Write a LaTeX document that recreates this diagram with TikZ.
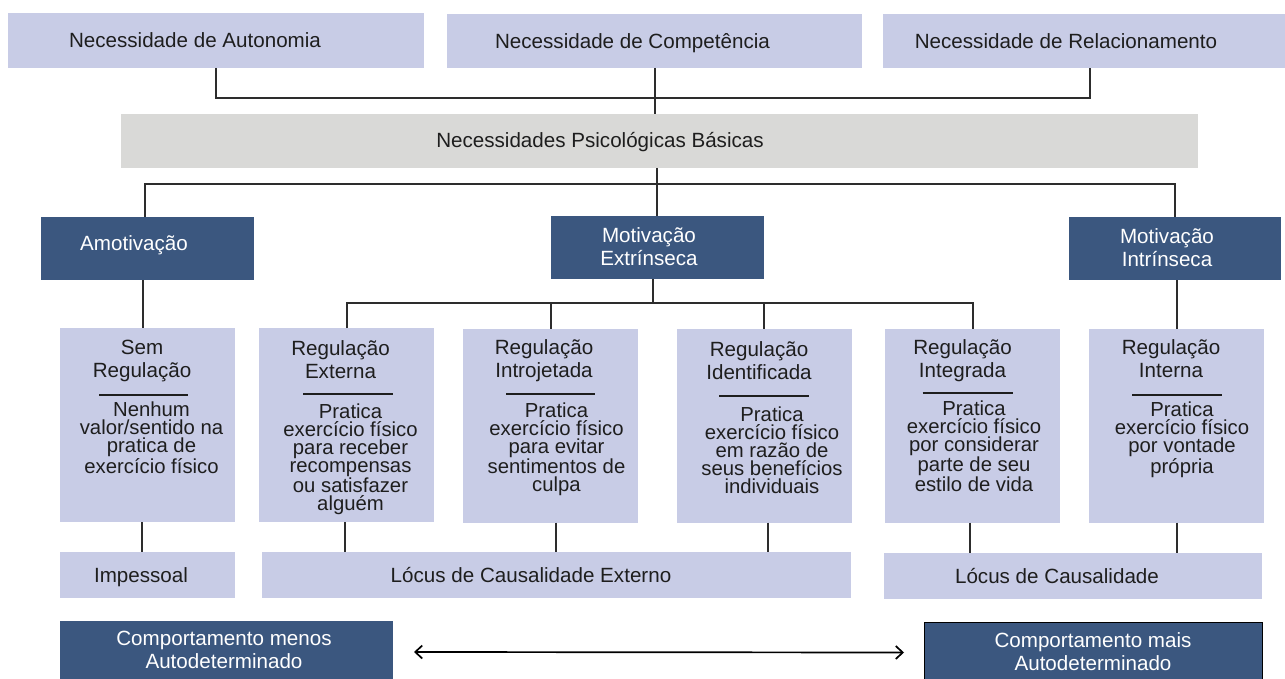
\documentclass[tikz,border=0pt]{standalone}
\usepackage{fontspec}
\setmainfont{Liberation Sans}
\usetikzlibrary{arrows.meta}
\definecolor{lav}{RGB}{200,204,230}
\definecolor{lgray}{RGB}{217,217,215}
\definecolor{navy}{RGB}{59,87,127}
\definecolor{ink}{RGB}{30,30,30}
\definecolor{wirec}{RGB}{45,45,45}
\begin{document}
\begin{tikzpicture}[x=1pt,y=-1pt,
  every node/.style={inner sep=0pt, outer sep=0pt},
  lbox/.style={fill=lav},
  gbox/.style={fill=lgray},
  dbox/.style={fill=navy},
  ttl/.style={font=\fontsize{20.6}{23}\selectfont, align=center, text=ink, anchor=base},
  bdy/.style={font=\fontsize{20.3}{18}\selectfont, align=center, text=ink, anchor=base},
  wtxt/.style={font=\fontsize{20.6}{23}\selectfont, align=center, text=white, anchor=base},
  wire/.style={draw=wirec, line width=1.2pt},
  rulel/.style={draw=ink, line width=1.5pt},
  dart/.style={draw=black, line width=1.7pt, {Straight Barb[length=7pt,width=13pt]}-{Straight Barb[length=7pt,width=13pt]}}
]
\useasboundingbox (0,0) rectangle (1285,679);

% top needs
\node[lbox, minimum width=416pt, minimum height=55pt] (aut) at (216,40.5) {};
\node[lbox, minimum width=415pt, minimum height=54pt] (comp) at (654.5,41) {};
\node[lbox, minimum width=402pt, minimum height=54pt] (rel) at (1084,41) {};
\node[gbox, minimum width=1077pt, minimum height=54pt] (nec) at (659.5,141) {};
\node[ttl] (tAut) at (195,48) {Necessidade de Autonomia};
\node[ttl] (tComp) at (632.5,49) {Necessidade de Competência};
\node[ttl] (tRel) at (1066,49) {Necessidade de Relacionamento};
\node[ttl] (tNec) at (600,148) {Necessidades Psicológicas Básicas};

% motivation types
\node[dbox, minimum width=213pt, minimum height=63pt] (amo) at (147.5,248.5) {};
\node[dbox, minimum width=213pt, minimum height=63pt] (ext) at (657.5,247.5) {};
\node[dbox, minimum width=212pt, minimum height=63pt] (int) at (1175,248.5) {};
\node[wtxt] (tAmo) at (134,250.5) {Amotivação};
\node[wtxt] (tExt) at (649,265.7) {Motivação\\Extrínseca};
\node[wtxt] (tInt) at (1167,266.5) {Motivação\\Intrínseca};

% regulation boxes
\node[lbox, minimum width=175pt, minimum height=194pt] (sem) at (147.5,425) {};
\node[lbox, minimum width=175pt, minimum height=194pt] (rex) at (346.5,425) {};
\node[lbox, minimum width=175pt, minimum height=194pt] (rin) at (550.5,425.5) {};
\node[lbox, minimum width=175pt, minimum height=194pt] (rid) at (764.5,425.5) {};
\node[lbox, minimum width=175pt, minimum height=194pt] (rig) at (972.5,425.5) {};
\node[lbox, minimum width=175pt, minimum height=194pt] (rnt) at (1176.5,425.5) {};

\node[ttl] (tSem) at (142,377) {Sem\\Regulação};
\node[ttl] (tRex) at (340.5,378) {Regulação\\Externa};
\node[ttl] (tRin) at (544,377.5) {Regulação\\Introjetada};
\node[ttl] (tRid) at (759,379.5) {Regulação\\Identificada};
\node[ttl] (tRig) at (962.5,377.5) {Regulação\\Integrada};
\node[ttl] (tRnt) at (1171,377.5) {Regulação\\Interna};

\draw[rulel] (99,395) -- (188,395);
\draw[rulel] (303,394) -- (393,394);
\draw[rulel] (506,394) -- (595,394);
\draw[rulel] (719,396) -- (809,396);
\draw[rulel] (922.5,393) -- (1012.5,393);
\draw[rulel] (1132,395) -- (1222,395);

\node[bdy] (bSem) at (151.5,473) {Nenhum\\valor/sentido na\\pratica de\\exercício físico};
\node[bdy] (bRex) at (350.5,510) {Pratica\\exercício físico\\para receber\\recompensas\\ou satisfazer\\alguém};
\node[bdy] (bRin) at (556.5,491.5) {Pratica\\exercício físico\\para evitar\\sentimentos de\\culpa};
\node[bdy] (bRid) at (772,493) {Pratica\\exercício físico\\em razão de\\seus benefícios\\individuais};
\node[bdy] (bRig) at (974,491) {Pratica\\exercício físico\\por considerar\\parte de seu\\estilo de vida};
\node[bdy] (bRnt) at (1182,473) {Pratica\\exercício físico\\por vontade\\própria};

% locus boxes
\node[lbox, minimum width=175pt, minimum height=46pt] (imp) at (147.5,575) {};
\node[lbox, minimum width=589pt, minimum height=46pt] (lce) at (556.5,575) {};
\node[lbox, minimum width=378pt, minimum height=46pt] (lc) at (1073,576) {};
\node[ttl] (tImp) at (141,582.7) {Impessoal};
\node[ttl] (tLce) at (531,582.7) {Lócus de Causalidade Externo};
\node[ttl] (tLc) at (1057,583.3) {Lócus de Causalidade};

% behaviour boxes
\node[dbox, minimum width=333pt, minimum height=58pt] (cmen) at (226.5,650) {};
\node[dbox, draw=black, line width=1pt, minimum width=338pt, minimum height=57pt] (cmai) at (1093,650.5) {};
\node[wtxt] (tCmen) at (224,668.3) {Comportamento menos\\Autodeterminado};
\node[wtxt] (tCmai) at (1093,670.3) {Comportamento mais\\Autodeterminado};

% connectors: needs
\draw[wire] (aut.south) -- ++(0,30) -| ([xshift=6pt]rel.south);
\draw[wire] ([xshift=0.5pt]comp.south) -- ([xshift=0.5pt]comp.south |- nec.north);
\draw[wire] ([xshift=-0.5pt]ext.north |- nec.south) -- ([xshift=-0.5pt]ext.north);
\draw[wire] ([xshift=-2.5pt]amo.north) -- ++(0,-33) -| (int.north);

% connectors: motivation to regulation
\draw[wire] ([xshift=-4.5pt]amo.south) -- ([xshift=-4.5pt]amo.south |- sem.north);
\draw[wire] ([xshift=-4.5pt]ext.south) -- ++(0,24);
\draw[wire] ([xshift=0.5pt]rex.north) -- ++(0,-25) -| ([xshift=0.5pt]rig.north);
\draw[wire] ([xshift=0.5pt]rin.north) -- ++(0,-26);
\draw[wire] ([xshift=-0.5pt]rid.north) -- ++(0,-26);
\draw[wire] ([xshift=2pt]int.south) -- ([xshift=2pt]int.south |- rnt.north);

% connectors: regulation to locus
\draw[wire] ([xshift=-5.5pt]sem.south) -- ([xshift=-5.5pt]sem.south |- imp.north);
\draw[wire] ([xshift=-1.5pt]rex.south) -- ([xshift=-1.5pt]rex.south |- lce.north);
\draw[wire] ([xshift=5.5pt]rin.south) -- ([xshift=5.5pt]rin.south |- lce.north);
\draw[wire] ([xshift=3.5pt]rid.south) -- ([xshift=3.5pt]rid.south |- lce.north);
\draw[wire] ([xshift=-2.5pt]rig.south) -- ([xshift=-2.5pt]rig.south |- lc.north);
\draw[wire] ([xshift=0.5pt]rnt.south) -- ([xshift=0.5pt]rnt.south |- lc.north);

% arrow
\draw[dart] ([xshift=21pt,yshift=-2pt]cmen.east) -- ([xshift=-20pt,yshift=-2pt]cmai.west);
\end{tikzpicture}
\end{document}
